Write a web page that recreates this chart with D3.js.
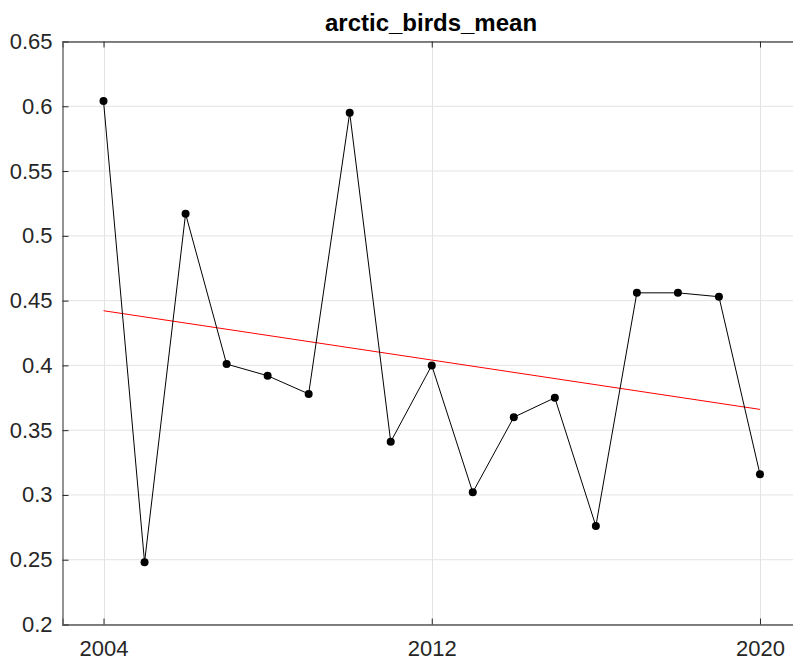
<!DOCTYPE html>
<html>
<head>
<meta charset="utf-8">
<script src="https://cdn.jsdelivr.net/npm/d3@7"></script>
<style>
  html, body { margin: 0; padding: 0; background: #fff; }
  svg { display: block; }
</style>
</head>
<body>
<svg id="chart" width="793" height="663"></svg>
<script>
// Yearly mean values
const years = [2004, 2005, 2006, 2007, 2008, 2009, 2010, 2011, 2012, 2013, 2014, 2015, 2016, 2017, 2018, 2019, 2020];
const values = [0.604, 0.248, 0.517, 0.401, 0.392, 0.378, 0.595, 0.341, 0.400, 0.302, 0.360, 0.375, 0.276, 0.456, 0.456, 0.453, 0.316];
const xTicks = [2004, 2012, 2020];
const yTicks = [0.2, 0.25, 0.3, 0.35, 0.4, 0.45, 0.5, 0.55, 0.6, 0.65];
const titleText = "arctic_birds_mean";

const svg = d3.select("#chart");
const plotLeft = 62.5, plotTop = 41.5, plotBottom = 624.5, plotRight = 801;

const x = d3.scaleLinear().domain([2003, 2021]).range([plotLeft, plotRight]);
const y = d3.scaleLinear().domain([0.2, 0.65]).range([plotBottom, plotTop]);

const font = "'Liberation Sans', Arial, Helvetica, sans-serif";

// grid
const grid = svg.append("g");
grid.selectAll("line.gy").data(yTicks).enter().append("line")
  .attr("x1", plotLeft).attr("x2", plotRight)
  .attr("y1", d => y(d)).attr("y2", d => y(d))
  .attr("stroke", "#e3e3e3").attr("stroke-width", 1);
grid.selectAll("line.gx").data(xTicks).enter().append("line")
  .attr("x1", d => Math.round(x(d)) + 0.5).attr("x2", d => Math.round(x(d)) + 0.5)
  .attr("y1", plotTop).attr("y2", plotBottom)
  .attr("stroke", "#e3e3e3").attr("stroke-width", 1);

// axes (inward ticks)
const yAxis = d3.axisLeft(y).tickValues(yTicks).tickSize(-6).tickPadding(10)
  .tickFormat(d => String(+d.toFixed(2)));
const gy = svg.append("g").attr("transform", `translate(${plotLeft},0)`).call(yAxis);
const xAxis = d3.axisBottom(x).tickValues(xTicks).tickSize(-6).tickPadding(16)
  .tickFormat(d3.format("d"));
const gx = svg.append("g").attr("transform", `translate(0,${plotBottom})`).call(xAxis);
const xTop = d3.axisTop(x).tickValues(xTicks).tickSize(-6).tickFormat("");
const gt = svg.append("g").attr("transform", `translate(0,${plotTop})`).call(xTop);

[gx, gy, gt].forEach(g => {
  g.select(".domain").attr("stroke", "#5a5a5a").attr("stroke-width", 1.3);
  g.selectAll(".tick line").attr("stroke", "#262626");
  g.selectAll(".tick text").attr("fill", "#262626")
    .style("font-family", font).style("font-size", "22px");
});
gx.selectAll(".tick text").attr("dy", "0.71em");

// trend line (least squares fit)
const n = years.length;
const mx = d3.mean(years), my = d3.mean(values);
const slope = d3.sum(years, (t, i) => (t - mx) * (values[i] - my)) / d3.sum(years, t => (t - mx) ** 2);
const icpt = my - slope * mx;
const ends = [years[0], years[n - 1]];
svg.append("line")
  .attr("x1", x(ends[0])).attr("y1", y(icpt + slope * ends[0]))
  .attr("x2", x(ends[1])).attr("y2", y(icpt + slope * ends[1]))
  .attr("stroke", "#ff0000").attr("stroke-width", 1);

// series
const line = d3.line().x((d, i) => x(years[i])).y(d => y(d));
svg.append("path").datum(values).attr("d", line)
  .attr("fill", "none").attr("stroke", "#000").attr("stroke-width", 1);
svg.selectAll("circle.pt").data(values).enter().append("circle")
  .attr("cx", (d, i) => x(years[i])).attr("cy", d => y(d)).attr("r", 4)
  .attr("fill", "#000");

// title
svg.append("text").attr("x", 431).attr("y", 31).attr("text-anchor", "middle")
  .style("font-family", font).style("font-size", "24px").style("font-weight", "bold")
  .attr("fill", "#000").text(titleText);
</script>
</body>
</html>
